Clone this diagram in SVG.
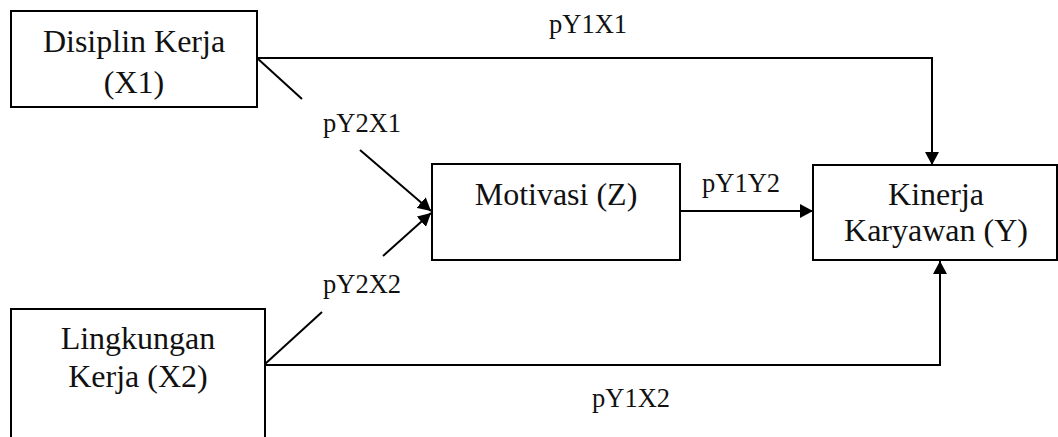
<svg xmlns="http://www.w3.org/2000/svg" width="1058" height="437" viewBox="0 0 1058 437">
<style>
.box{fill:#fff;stroke:#000;stroke-width:2}
.ln{fill:none;stroke:#000;stroke-width:2}
.t{font-family:"Times New Roman",Times,"Liberation Serif",Tinos,"DejaVu Serif","Noto Serif",serif;font-size:32px;fill:#111;text-anchor:middle}
.lb{font-family:"Times New Roman",Times,"Liberation Serif",Tinos,"DejaVu Serif","Noto Serif",serif;font-size:26.5px;fill:#111}
</style>
<defs>
<marker id="ah" markerUnits="userSpaceOnUse" markerWidth="14" markerHeight="14" refX="13" refY="7" orient="auto">
<path d="M0,0 L13,7 L0,14 z" fill="#000"/>
</marker>
</defs>
<g id="connectors">
<path class="ln" d="M257,58 L932,58 L932,165" marker-end="url(#ah)"/>
<path class="ln" d="M257,58 L302,99"/>
<path class="ln" d="M360,150 L431,211" marker-end="url(#ah)"/>
<path class="ln" d="M265,364 L322,312"/>
<path class="ln" d="M383,256 L431,213" marker-end="url(#ah)"/>
<path class="ln" d="M680,211 L813,211" marker-end="url(#ah)"/>
<path class="ln" d="M265,365 L940,365 L940,261" marker-end="url(#ah)"/>
<text class="lb" x="549" y="33">pY1X1</text>
<text class="lb" x="323" y="132">pY2X1</text>
<text class="lb" x="323" y="293">pY2X2</text>
<text class="lb" x="702" y="192">pY1Y2</text>
<text class="lb" x="592" y="407">pY1X2</text>
</g>
<g id="node-x1">
<rect class="box" x="11" y="11" width="246" height="96"/>
<text class="t" x="134" y="52">Disiplin Kerja</text>
<text class="t" x="134" y="93">(X1)</text>
</g>
<g id="node-z">
<rect class="box" x="432" y="164" width="248" height="96"/>
<text class="t" x="556" y="205">Motivasi (Z)</text>
</g>
<g id="node-y">
<rect class="box" x="813" y="165" width="244" height="95"/>
<text class="t" x="936" y="205">Kinerja</text>
<text class="t" x="936" y="241">Karyawan (Y)</text>
</g>
<g id="node-x2">
<rect class="box" x="11" y="309" width="254" height="150"/>
<text class="t" x="138" y="349">Lingkungan</text>
<text class="t" x="138" y="387">Kerja (X2)</text>
</g>
</svg>
